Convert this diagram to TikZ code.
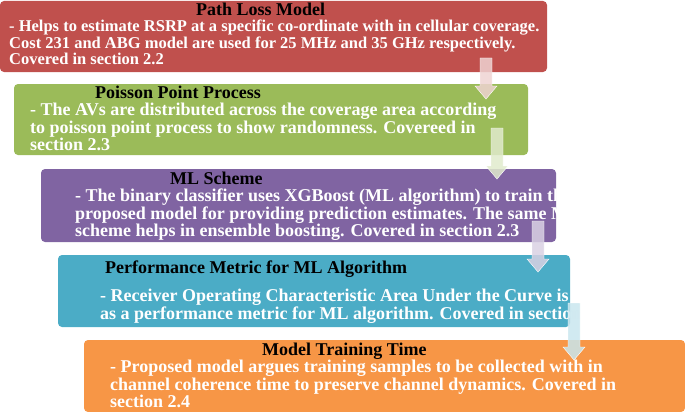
\documentclass[tikz,border=0pt]{standalone}
\usepackage{fontspec}
\setmainfont{Liberation Serif}
\begin{document}
\begin{tikzpicture}[x=1pt,y=-1pt,
 box/.style={rounded corners=4pt,draw=none},
 ttl/.style={anchor=base west,font=\bfseries\fontsize{18}{18}\selectfont,text=black,inner sep=0},
 body/.style={anchor=north west,align=left,font=\bfseries\fontsize{18}{14.8}\selectfont,text=white,inner sep=0},
 arr/.style={fill=#1,draw=white,line width=0.4pt,fill opacity=0.85}]
\useasboundingbox (0,0) rectangle (685,412);
\definecolor{c1}{HTML}{C0504D}\definecolor{c2}{HTML}{9BBB59}\definecolor{c3}{HTML}{8064A2}
\definecolor{c4}{HTML}{4BACC6}\definecolor{c5}{HTML}{F79646}
\fill[box,c1] (0,1) rectangle (547,72);
\fill[box,c2] (14,84) rectangle (528,155);
\fill[box,c3] (41,169) rectangle (556,242);
\fill[box,c4] (58,255) rectangle (570,327);
\fill[box,c5] (84,340) rectangle (685,412);
\node[ttl] (t1) at (196,16) {Path Loss Model};
\node[body,font=\bfseries\fontsize{16.5}{14.8}\selectfont] (b1) at (9,20) {- Helps to estimate RSRP at a specific co-ordinate with in cellular coverage.\\Cost 231 and ABG model are used for 25 MHz and 35 GHz respectively.\\Covered in section 2.2};
\node[ttl] (t2) at (95,98) {Poisson Point Process};
\node[body] (b2) at (30,103) {- The AVs are distributed across the coverage area according\\to poisson point process to show randomness. Covereed in\\section 2.3};
\node[ttl] (t3) at (170,184) {ML Scheme};
\node[body] (b3) at (75,189) {- The binary classifier uses XGBoost (ML algorithm) to train the\\proposed model for providing prediction estimates. The same ML\\scheme helps in ensemble boosting. Covered in section 2.3};
\node[ttl] (t4) at (105,273) {Performance Metric for ML Algorithm};
\node[body] (b4) at (100,289) {- Receiver Operating Characteristic Area Under the Curve is used\\as a performance metric for ML algorithm. Covered in section 2.3};
\node[ttl] (t5) at (262,355) {Model Training Time};
\node[body] (b5) at (110,360) {- Proposed model argues training samples to be collected with in\\channel coherence time to preserve channel dynamics. Covered in\\section 2.4};
\coordinate (a1) at (486,58); \coordinate (a2) at (497,128); \coordinate (a3) at (538,221); \coordinate (a4) at (574,303);
\foreach \c/\col/\len in {a1/c1!25/41,a2/c2!30/51,a3/c3!30/51,a4/c4!30/57}{
 \path[arr=\col] (\c) ++(-6,0) -- ++(12,0) -- ++(0,\len-13) -- ++(5,0) -- ++(-11,13) -- ++(-11,-13) -- ++(5,0) -- cycle;}
\end{tikzpicture}
\end{document}
